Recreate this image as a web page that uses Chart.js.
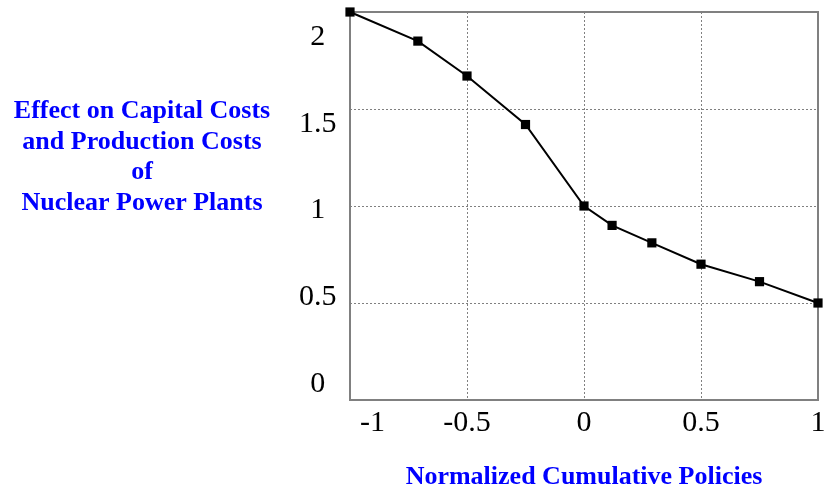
<!DOCTYPE html>
<html>
<head>
<meta charset="utf-8">
<title>Effect on Capital Costs and Production Costs of Nuclear Power Plants</title>
<script src="https://cdn.jsdelivr.net/npm/chart.js@4.4.1/dist/chart.umd.min.js"></script>
<style>
    html, body { margin: 0; padding: 0; background: #fff; }
    canvas { display: block; }
</style>
</head>
<body>
<canvas id="grafico" width="827" height="493"></canvas>
<script>
/**
 * Gráfico de efeito sobre custos - usinas nucleares
 */

// Dados
const politicas = [-1, -0.71, -0.5, -0.25, 0, 0.12, 0.29, 0.5, 0.75, 1];
const efeito = [2.0, 1.85, 1.67, 1.42, 1.0, 0.9, 0.81, 0.7, 0.61, 0.5];
const ticksX = [-1, -0.5, 0, 0.5, 1];
const ticksY = [0, 0.5, 1, 1.5, 2];
const tituloY = ['Effect on Capital Costs', 'and Production Costs', 'of', 'Nuclear Power Plants'];
const tituloX = 'Normalized Cumulative Policies';

const AZUL = '#0000ff';
const CINZA = '#808080';
const FONTE = "'Liberation Serif', 'Times New Roman', serif";

let grafico = null;

// Moldura cinza em volta da área do gráfico
const pluginMoldura = {
    id: 'moldura',
    beforeDatasetsDraw(chart) {
        const { ctx, chartArea: a } = chart;
        ctx.save();
        ctx.strokeStyle = CINZA;
        ctx.lineWidth = 2;
        ctx.strokeRect(a.left, a.top, a.right - a.left, a.bottom - a.top);
        ctx.restore();
    }
};

// Título do eixo Y em linhas horizontais, à esquerda
const pluginTituloY = {
    id: 'tituloY',
    afterDraw(chart) {
        const ctx = chart.ctx;
        ctx.save();
        ctx.fillStyle = AZUL;
        ctx.font = 'bold 26px ' + FONTE;
        ctx.textAlign = 'center';
        ctx.textBaseline = 'alphabetic';
        tituloY.forEach((linha, i) => {
            ctx.fillText(linha, 142, 118 + i * 30.5);
        });
        ctx.restore();
    }
};

const gradePontilhada = {
    grid: { color: CINZA, lineWidth: 1, drawTicks: false },
    border: { display: false, dash: [2, 2] }
};

function criarGrafico() {
    const ctx = document.getElementById('grafico').getContext('2d');

    if (grafico) {
        grafico.destroy();
    }

    grafico = new Chart(ctx, {
        type: 'line',
        data: {
            datasets: [{
                data: politicas.map((x, i) => ({ x: x, y: efeito[i] })),
                borderColor: '#000',
                borderWidth: 2,
                tension: 0,
                pointStyle: 'rect',
                pointRadius: 6.5,
                pointBorderWidth: 0,
                pointBackgroundColor: '#000',
                clip: false
            }]
        },
        options: {
            responsive: false,
            animation: false,
            layout: { padding: { top: 12, right: 9, bottom: 0, left: 0 } },
            plugins: {
                legend: { display: false },
                tooltip: { enabled: false }
            },
            scales: {
                x: {
                    type: 'linear',
                    min: -1,
                    max: 1,
                    ...gradePontilhada,
                    afterBuildTicks: s => { s.ticks = ticksX.map(v => ({ value: v })); },
                    afterFit: s => { s.height = 93; s.paddingLeft = 0; s.paddingRight = 0; },
                    ticks: {
                        color: '#000',
                        font: { size: 30, family: FONTE },
                        padding: 5,
                        maxRotation: 0,
                        autoSkip: false,
                        // o "-1" fica afastado do eixo Y no original
                        callback: v => v === -1 ? '      -1' : String(v)
                    },
                    title: {
                        display: true,
                        text: tituloX,
                        color: AZUL,
                        font: { size: 26, weight: 'bold', family: FONTE },
                        padding: 0
                    }
                },
                y: {
                    type: 'linear',
                    min: 0,
                    max: 2,
                    ...gradePontilhada,
                    afterBuildTicks: s => { s.ticks = ticksY.map(v => ({ value: v })); },
                    afterFit: s => { s.width = 0; s.paddingTop = 0; s.paddingBottom = 0; },
                    ticks: { display: false }
                },
                // eixo só para os rótulos, que no original ficam num intervalo mais curto
                rotulosY: {
                    type: 'linear',
                    position: 'left',
                    min: -0.092,
                    max: 2.144,
                    grid: { display: false, drawTicks: false },
                    border: { display: false },
                    afterBuildTicks: s => { s.ticks = ticksY.map(v => ({ value: v })); },
                    afterFit: s => { s.width = 350; s.paddingTop = 0; s.paddingBottom = 0; },
                    ticks: {
                        color: '#000',
                        font: { size: 30, family: FONTE },
                        padding: 13.5,
                        crossAlign: 'center',
                        callback: v => String(v)
                    }
                }
            }
        },
        plugins: [pluginMoldura, pluginTituloY]
    });
}

// Inicializar
document.addEventListener('DOMContentLoaded', () => {
    criarGrafico();
});
</script>
</body>
</html>
